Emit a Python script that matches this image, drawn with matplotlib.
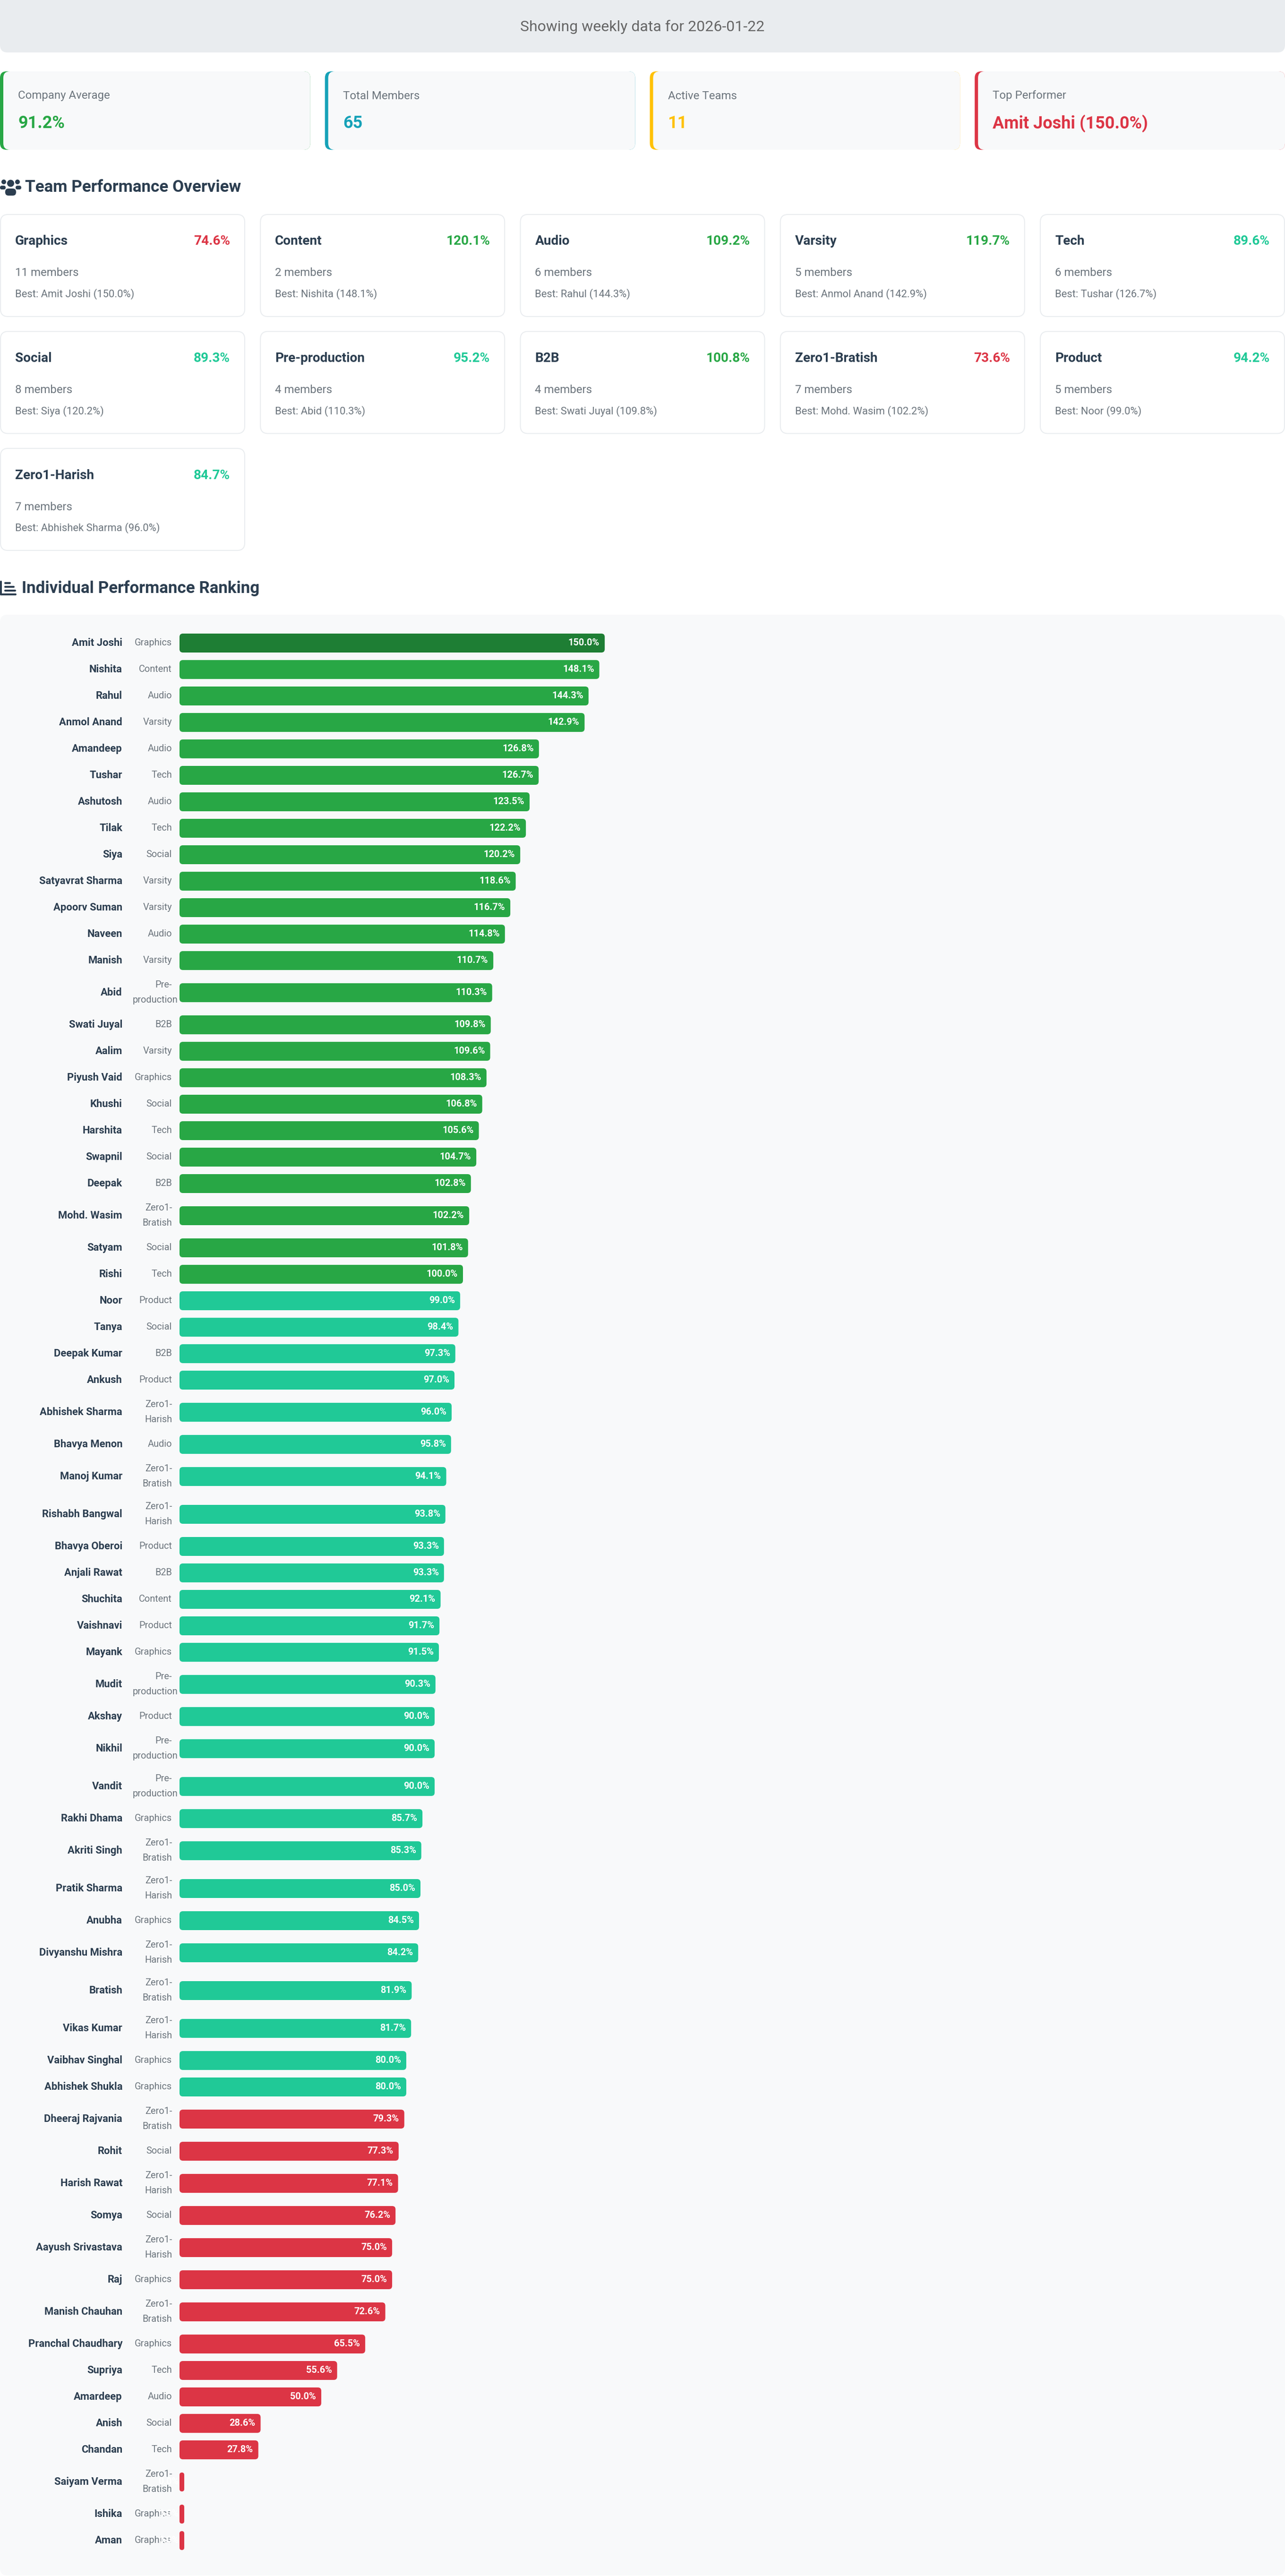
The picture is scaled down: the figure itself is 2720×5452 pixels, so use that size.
import matplotlib
matplotlib.use('Agg')
import matplotlib.pyplot as plt
from matplotlib.patches import FancyBboxPatch, Circle

plt.rcParams['font.family'] = ['Roboto', 'DejaVu Sans']

W, H = 2720, 5452
DPI = 100
PX = 72 / DPI  # points per pixel

NAVY = '#2c3e50'
GRAY = '#6c757d'
GREEN = '#28a745'
DARK_GREEN = '#1e7e34'
TEAL = '#20c997'
RED = '#dc3545'
YELLOW = '#ffc107'
CYAN = '#17a2b8'

# ---- data ----
report_date = '2026-01-22'
company_avg = 91.2

teams = ['Graphics', 'Content', 'Audio', 'Varsity', 'Tech', 'Social',
         'Pre-production', 'B2B', 'Zero1-Bratish', 'Product', 'Zero1-Harish']
team_scores = [74.6, 120.1, 109.2, 119.7, 89.6, 89.3, 95.2, 100.8, 73.6, 94.2, 84.7]

people = ['Amit Joshi', 'Nishita', 'Rahul', 'Anmol Anand', 'Amandeep', 'Tushar',
          'Ashutosh', 'Tilak', 'Siya', 'Satyavrat Sharma', 'Apoorv Suman', 'Naveen',
          'Manish', 'Abid', 'Swati Juyal', 'Aalim', 'Piyush Vaid', 'Khushi',
          'Harshita', 'Swapnil', 'Deepak', 'Mohd. Wasim', 'Satyam', 'Rishi', 'Noor',
          'Tanya', 'Deepak Kumar', 'Ankush', 'Abhishek Sharma', 'Bhavya Menon',
          'Manoj Kumar', 'Rishabh Bangwal', 'Bhavya Oberoi', 'Anjali Rawat',
          'Shuchita', 'Vaishnavi', 'Mayank', 'Mudit', 'Akshay', 'Nikhil', 'Vandit',
          'Rakhi Dhama', 'Akriti Singh', 'Pratik Sharma', 'Anubha',
          'Divyanshu Mishra', 'Bratish', 'Vikas Kumar', 'Vaibhav Singhal',
          'Abhishek Shukla', 'Dheeraj Rajvania', 'Rohit', 'Harish Rawat', 'Somya',
          'Aayush Srivastava', 'Raj', 'Manish Chauhan', 'Pranchal Chaudhary',
          'Supriya', 'Amardeep', 'Anish', 'Chandan', 'Saiyam Verma', 'Ishika', 'Aman']
people_teams = ['Graphics', 'Content', 'Audio', 'Varsity', 'Audio', 'Tech',
                'Audio', 'Tech', 'Social', 'Varsity', 'Varsity', 'Audio',
                'Varsity', 'Pre-production', 'B2B', 'Varsity', 'Graphics', 'Social',
                'Tech', 'Social', 'B2B', 'Zero1-Bratish', 'Social', 'Tech', 'Product',
                'Social', 'B2B', 'Product', 'Zero1-Harish', 'Audio',
                'Zero1-Bratish', 'Zero1-Harish', 'Product', 'B2B',
                'Content', 'Product', 'Graphics', 'Pre-production', 'Product',
                'Pre-production', 'Pre-production',
                'Graphics', 'Zero1-Bratish', 'Zero1-Harish', 'Graphics',
                'Zero1-Harish', 'Zero1-Bratish', 'Zero1-Harish', 'Graphics',
                'Graphics', 'Zero1-Bratish', 'Social', 'Zero1-Harish', 'Social',
                'Zero1-Harish', 'Graphics', 'Zero1-Bratish', 'Graphics',
                'Tech', 'Audio', 'Social', 'Tech', 'Zero1-Bratish', 'Graphics', 'Graphics']
scores = [150.0, 148.1, 144.3, 142.9, 126.8, 126.7, 123.5, 122.2, 120.2, 118.6,
          116.7, 114.8, 110.7, 110.3, 109.8, 109.6, 108.3, 106.8, 105.6, 104.7,
          102.8, 102.2, 101.8, 100.0, 99.0, 98.4, 97.3, 97.0, 96.0, 95.8,
          94.1, 93.8, 93.3, 93.3, 92.1, 91.7, 91.5, 90.3, 90.0, 90.0, 90.0,
          85.7, 85.3, 85.0, 84.5, 84.2, 81.9, 81.7, 80.0, 80.0,
          79.3, 77.3, 77.1, 76.2, 75.0, 75.0, 72.6, 65.5, 55.6, 50.0,
          28.6, 27.8, 0.0, 0.0, 0.0]


def score_color(v):
    if v >= 100:
        return GREEN
    if v >= 80:
        return TEAL
    return RED


def rbox(ax, x, y, w, h, r, **kw):
    p = FancyBboxPatch((x, y), w, h, boxstyle=f'round,pad=0,rounding_size={r}', **kw)
    ax.add_patch(p)
    return p


fig = plt.figure(figsize=(W / DPI, H / DPI), dpi=DPI)
fig.patch.set_facecolor('white')
bg = fig.add_axes([0, 0, 1, 1])
bg.set_xlim(0, W)
bg.set_ylim(H, 0)
bg.axis('off')

# header banner
rbox(bg, 0, -30, W, 141, 16, fc='#e9ecef', ec='none')
bg.text(W / 2, 57, f'Showing weekly data for {report_date}', ha='center', va='center',
        fontsize=32 * PX, color='#666666')

# summary cards
top_i = scores.index(max(scores))
stat_labels = ['Company Average', 'Total Members', 'Active Teams', 'Top Performer']
stat_values = [f'{company_avg}%', str(len(people)), str(len(teams)),
               f'{people[top_i]} ({scores[top_i]:.1f}%)']
stat_colors = [GREEN, CYAN, YELLOW, RED]
cw = (W - 3 * 31) / 4
for i in range(4):
    x0 = i * (cw + 31)
    rbox(bg, x0, 151, cw, 166, 14, fc=stat_colors[i], ec='none')
    rbox(bg, x0 + 7, 151, cw - 7, 166, 14, fc='#f8f9fa', ec='none')
    bg.text(x0 + 38, 203, stat_labels[i], ha='left', va='center',
            fontsize=24 * PX, color=GRAY)
    bg.text(x0 + 38, 261, stat_values[i], ha='left', va='center',
            fontsize=36 * PX, fontweight='bold', color=stat_colors[i])

# section 1 title with users icon
bg.add_patch(Circle((22.5, 388), 7.5, fc=NAVY, ec='none'))
rbox(bg, 11, 399, 23, 15, 7, fc=NAVY, ec='none')
bg.add_patch(Circle((8, 385), 5, fc=NAVY, ec='none'))
bg.add_patch(Circle((37, 385), 5, fc=NAVY, ec='none'))
rbox(bg, 0, 393, 12, 8, 4, fc=NAVY, ec='none')
rbox(bg, 33, 393, 12, 8, 4, fc=NAVY, ec='none')
bg.text(53, 397, 'Team Performance Overview', ha='left', va='center',
        fontsize=35 * PX, fontweight='bold', color=NAVY)

# team cards
tw = 519
tg = (W - 5 * tw) / 4
row_tops = [454, 701.5, 949]
for k, team in enumerate(teams):
    x0 = (k % 5) * (tw + tg)
    top = row_tops[k // 5]
    members = [i for i, t in enumerate(people_teams) if t == team]
    best = max(members, key=lambda i: scores[i])
    rbox(bg, x0 + 1, top, tw - 2, 216, 16, fc='white', ec='#e9ecef', lw=2 * PX)
    bg.text(x0 + 32, top + 57, team, ha='left', va='center',
            fontsize=28 * PX, fontweight='bold', color=NAVY)
    bg.text(x0 + 487, top + 57, f'{team_scores[k]}%', ha='right', va='center',
            fontsize=28 * PX, fontweight='bold', color=score_color(team_scores[k]))
    bg.text(x0 + 32, top + 124, f'{len(members)} members', ha='left', va='center',
            fontsize=24 * PX, color=GRAY)
    bg.text(x0 + 32, top + 169, f'Best: {people[best]} ({scores[best]:.1f}%)',
            ha='left', va='center', fontsize=22 * PX, color=GRAY)

# section 2 title with chart icon
rbox(bg, 0, 1229, 4, 31, 2, fc=NAVY, ec='none')
rbox(bg, 0, 1256, 35, 4, 2, fc=NAVY, ec='none')
rbox(bg, 9, 1232, 14, 4, 2, fc=NAVY, ec='none')
rbox(bg, 9, 1240, 22, 4, 2, fc=NAVY, ec='none')
rbox(bg, 9, 1248, 25, 4, 2, fc=NAVY, ec='none')
bg.text(46, 1245, 'Individual Performance Ranking', ha='left', va='center',
        fontsize=35 * PX, fontweight='bold', color=NAVY)

# ranking panel
rbox(bg, 0, 1301, W, H - 1302, 16, fc='#f8f9fa', ec='none')

# row layout: two-line team labels make a row taller
n_lines = [2 if '-' in t else 1 for t in people_teams]
centers = []
y = 1361
for i, n in enumerate(n_lines):
    if i > 0:
        y += 56 + 12 * (n_lines[i - 1] - 1) + 12 * (n - 1)
    centers.append(y)

track_px = 900
ax = fig.add_axes([380 / W, 0, track_px / W, 1])
ax.set_xlim(0, max(scores))
ax.set_ylim(H, 0)
ax.axis('off')
ax.patch.set_alpha(0)
upx = track_px / max(scores)   # pixels per percent
min_w = 10 / upx

colors = [DARK_GREEN if v >= max(scores) else score_color(v) for v in scores]
widths = [max(v, min_w) for v in scores]
bars = ax.barh(centers, widths, height=40, color=colors)
for b, v in zip(bars, scores):
    bx, by = b.get_xy()
    bw, bh = b.get_width(), b.get_height()
    r_px = min(7, bw * upx / 2)
    ax.add_patch(FancyBboxPatch((bx, by), bw, bh,
                                boxstyle=f'round,pad=0,rounding_size={r_px / upx}',
                                mutation_aspect=upx, fc=b.get_facecolor(), ec='none'))
    b.set_visible(False)
    ax.annotate(f'{v:.1f}%', xy=(bw, by + bh / 2), xytext=(-11 * PX, 0),
                textcoords='offset points', ha='right', va='center',
                color='white', fontsize=20 * PX, fontweight='bold')

renderer = fig.canvas.get_renderer()
team_col_right, team_col_w = 364, 83
for name, team, c, n in zip(people, people_teams, centers, n_lines):
    bg.text(259, c, name, ha='right', va='center', fontsize=22 * PX,
            fontweight='semibold', color=NAVY)
    if n == 2:
        cut = team.index('-') + 1
        parts = [(team[:cut], c - 16), (team[cut:], c + 16)]
    else:
        parts = [(team, c)]
    for txt, ly in parts:
        t = bg.text(team_col_right, ly, txt, ha='right', va='center',
                    fontsize=20 * PX, color=GRAY)
        if t.get_window_extent(renderer=renderer).width > team_col_w:
            t.set_ha('left')
            t.set_x(team_col_right - team_col_w)

fig.savefig('out.png', dpi=DPI)
